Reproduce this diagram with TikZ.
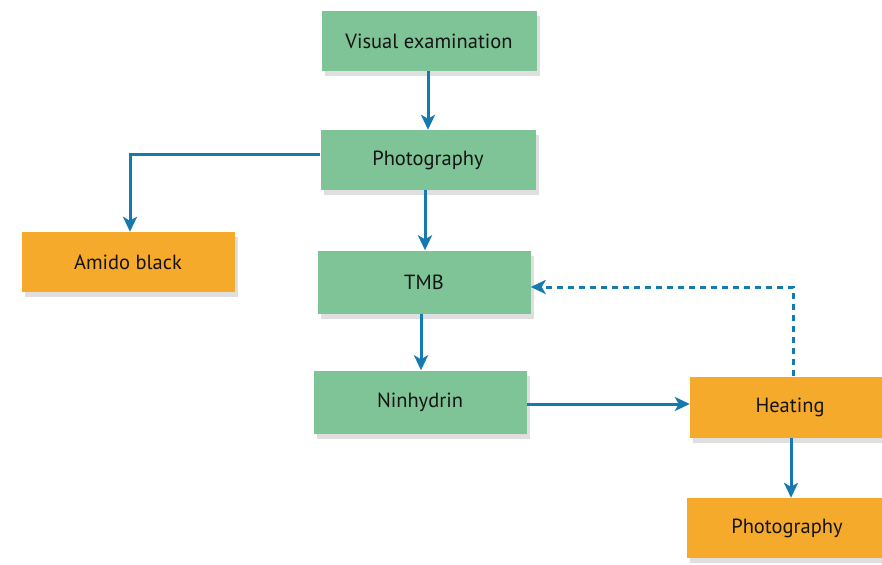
\documentclass[tikz,border=0pt]{standalone}
\usepackage{fontspec}
\setmainfont{PT Sans}
\usetikzlibrary{arrows.meta,shadows}
\definecolor{boxgreen}{RGB}{126,196,150}
\definecolor{boxorange}{RGB}{246,170,44}
\definecolor{arrowblue}{RGB}{22,122,176}
\tikzset{
  gbox/.style={fill=boxgreen, draw=none, minimum width=215pt, minimum height=60pt, font=\fontsize{20.5}{24}\selectfont, text=black!92, drop shadow={opacity=0.25, shadow xshift=3pt, shadow yshift=-5pt}},
  obox/.style={gbox, fill=boxorange},
  conn/.style={draw=arrowblue, line width=3pt, -{Stealth[length=15pt,width=14pt,inset=4pt]}},
  dconn/.style={conn, dash pattern=on 6pt off 5pt}
}
\begin{document}
\begin{tikzpicture}[x=1pt,y=-1pt]
\useasboundingbox (0,0) rectangle (882,564);
\node[gbox] (ve) at (429,41) {Visual examination};
\node[gbox] (ph1) at (428,160) {Photography};
\node[gbox, minimum width=213pt, minimum height=63pt] (tmb) at (424,282) {TMB};
\node[gbox, minimum width=213pt, minimum height=63pt] (nin) at (420,402) {Ninhydrin};
\node[obox, minimum width=213pt] (ab) at (128,262) {Amido black};
\node[obox, minimum width=200pt, minimum height=61pt] (heat) at (790,407) {Heating};
\node[obox, minimum width=200pt] (ph2) at (787,528) {Photography};
\coordinate (abtop) at (130,155);
\coordinate (dcorner) at (793,287);
\draw[conn] (ve.south -| 428,0) -- (ph1.north -| 428,0);
\draw[conn] (ph1.west |- 0,155) -- (abtop) -- (ab.north -| abtop);
\draw[conn] (ph1.south -| 425,0) -- (tmb.north -| 425,0);
\draw[conn] (tmb.south -| 421,0) -- (nin.north -| 421,0);
\draw[conn] (nin.east |- 0,404) -- (heat.west |- 0,404);
\draw[dconn] (heat.north -| dcorner) -- (dcorner) -- (tmb.east |- dcorner);
\draw[conn] (heat.south -| 791,0) -- (ph2.north -| 791,0);
\end{tikzpicture}
\end{document}
